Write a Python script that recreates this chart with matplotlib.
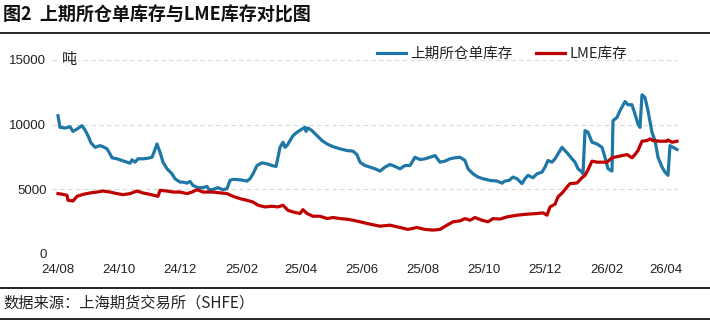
import matplotlib
matplotlib.use("Agg")
import matplotlib.pyplot as plt
from matplotlib.lines import Line2D
import pandas as pd

plt.rcParams['font.family'] = ['Liberation Sans', 'Noto Sans CJK SC', 'DejaVu Sans']

# ---- data ----
shfe_dates = [
    "2024-08-01", "2024-08-03", "2024-08-08", "2024-08-13", "2024-08-16", "2024-08-20",
    "2024-08-25", "2024-08-28", "2024-08-31", "2024-09-03", "2024-09-07", "2024-09-12",
    "2024-09-15", "2024-09-19", "2024-09-22", "2024-09-24", "2024-09-29", "2024-10-04",
    "2024-10-09", "2024-10-12", "2024-10-14", "2024-10-17", "2024-10-20", "2024-10-25",
    "2024-10-30", "2024-11-03", "2024-11-05", "2024-11-08", "2024-11-11", "2024-11-14",
    "2024-11-18", "2024-11-23", "2024-11-26", "2024-12-01", "2024-12-04", "2024-12-08",
    "2024-12-11", "2024-12-14", "2024-12-19", "2024-12-24", "2024-12-28", "2024-12-30",
    "2025-01-02", "2025-01-08", "2025-01-13", "2025-01-17", "2025-01-20", "2025-01-23",
    "2025-01-30", "2025-02-06", "2025-02-09", "2025-02-12", "2025-02-16", "2025-02-21",
    "2025-02-26", "2025-03-03", "2025-03-07", "2025-03-09", "2025-03-11", "2025-03-14",
    "2025-03-16", "2025-03-18", "2025-03-21", "2025-03-24", "2025-03-28", "2025-04-02",
    "2025-04-05", "2025-04-06", "2025-04-08", "2025-04-12", "2025-04-17", "2025-04-22",
    "2025-04-27", "2025-05-03", "2025-05-10", "2025-05-17", "2025-05-23", "2025-05-27",
    "2025-05-30", "2025-06-04", "2025-06-09", "2025-06-14", "2025-06-19", "2025-06-24",
    "2025-06-29", "2025-07-04", "2025-07-09", "2025-07-14", "2025-07-19", "2025-07-24",
    "2025-07-29", "2025-08-03", "2025-08-08", "2025-08-13", "2025-08-18", "2025-08-23",
    "2025-08-28", "2025-09-02", "2025-09-07", "2025-09-12", "2025-09-15", "2025-09-20",
    "2025-09-25", "2025-09-30", "2025-10-07", "2025-10-14", "2025-10-19", "2025-10-22",
    "2025-10-26", "2025-10-30", "2025-11-03", "2025-11-08", "2025-11-11", "2025-11-14",
    "2025-11-19", "2025-11-23", "2025-11-28", "2025-12-01", "2025-12-04", "2025-12-08",
    "2025-12-11", "2025-12-14", "2025-12-18", "2025-12-21", "2025-12-24", "2025-12-28",
    "2025-12-31", "2026-01-03", "2026-01-07", "2026-01-08", "2026-01-10", "2026-01-13",
    "2026-01-17", "2026-01-22", "2026-01-27", "2026-01-30", "2026-02-02", "2026-02-06",
    "2026-02-07", "2026-02-11", "2026-02-14", "2026-02-19", "2026-02-22", "2026-02-26",
    "2026-03-01", "2026-03-04", "2026-03-06", "2026-03-08", "2026-03-11", "2026-03-14",
    "2026-03-18", "2026-03-21", "2026-03-24", "2026-03-28", "2026-03-31", "2026-04-03",
    "2026-04-05", "2026-04-08", "2026-04-12",
]
shfe_values = [
    10690, 9790, 9740, 9840, 9480, 9660,
    9920, 9590, 9150, 8590, 8250, 8380,
    8300, 8130, 7740, 7440, 7360, 7230,
    7100, 7020, 7280, 7100, 7360, 7360,
    7410, 7480, 7870, 8510, 7870, 7100,
    6590, 6200, 5820, 5560, 5560, 5480,
    5610, 5300, 5130, 5130, 5230, 4970,
    4970, 5130, 4970, 5050, 5690, 5770,
    5740, 5640, 5820, 6200, 6840, 7050,
    6970, 6840, 6770, 7480, 8250, 8640,
    8250, 8380, 8770, 9150, 9410, 9660,
    9790, 9480, 9740, 9540, 9150, 8770,
    8510, 8300, 8130, 8000, 7950, 7680,
    7100, 6840, 6720, 6590, 6410, 6720,
    6920, 6770, 6590, 6840, 6840, 7480,
    7300, 7360, 7480, 7610, 7100, 7180,
    7360, 7440, 7480, 7230, 6590, 6200,
    5950, 5820, 5690, 5640, 5480, 5640,
    5690, 5950, 5820, 5440, 5820, 6080,
    5900, 6200, 6330, 6720, 7230, 7100,
    7360, 7740, 8250, 8000, 7740, 7360,
    7100, 6590, 6330, 6200, 9540, 9410,
    8640, 8510, 8250, 7480, 6590, 6410,
    10310, 10560, 11080, 11790, 11540, 11540,
    10820, 10050, 9790, 12310, 12100, 11080,
    9410, 8770, 7480, 6720, 6330, 6080,
    8380, 8250, 8080,
]

lme_dates = [
    "2024-08-01", "2024-08-06", "2024-08-10", "2024-08-11", "2024-08-16", "2024-08-20",
    "2024-08-26", "2024-09-02", "2024-09-09", "2024-09-15", "2024-09-22", "2024-09-29",
    "2024-10-05", "2024-10-12", "2024-10-19", "2024-10-25", "2024-11-01", "2024-11-09",
    "2024-11-11", "2024-11-18", "2024-11-24", "2024-12-01", "2024-12-08", "2024-12-13",
    "2024-12-18", "2024-12-24", "2024-12-30", "2025-01-03", "2025-01-17", "2025-01-23",
    "2025-01-30", "2025-02-06", "2025-02-12", "2025-02-17", "2025-02-24", "2025-03-03",
    "2025-03-09", "2025-03-14", "2025-03-19", "2025-03-24", "2025-03-31", "2025-04-03",
    "2025-04-07", "2025-04-13", "2025-04-20", "2025-04-27", "2025-05-03", "2025-05-10",
    "2025-05-17", "2025-05-23", "2025-05-30", "2025-06-09", "2025-06-19", "2025-06-29",
    "2025-07-09", "2025-07-17", "2025-07-26", "2025-08-03", "2025-08-11", "2025-08-18",
    "2025-08-25", "2025-08-31", "2025-09-07", "2025-09-12", "2025-09-17", "2025-09-22",
    "2025-09-29", "2025-10-05", "2025-10-10", "2025-10-17", "2025-10-24", "2025-11-03",
    "2025-11-13", "2025-11-23", "2025-11-29", "2025-12-03", "2025-12-06", "2025-12-11",
    "2025-12-14", "2025-12-19", "2025-12-23", "2025-12-26", "2026-01-02", "2026-01-07",
    "2026-01-10", "2026-01-13", "2026-01-17", "2026-01-22", "2026-02-01", "2026-02-06",
    "2026-02-12", "2026-02-21", "2026-02-26", "2026-03-01", "2026-03-04", "2026-03-08",
    "2026-03-13", "2026-03-16", "2026-03-19", "2026-03-26", "2026-04-02", "2026-04-03",
    "2026-04-07", "2026-04-12",
]
lme_values = [
    4670, 4610, 4540, 4150, 4100, 4460,
    4610, 4720, 4790, 4870, 4790, 4670,
    4590, 4670, 4870, 4720, 4610, 4460,
    4920, 4870, 4790, 4790, 4670, 4790,
    4970, 4790, 4790, 4790, 4670, 4460,
    4280, 4150, 4020, 3770, 3640, 3690,
    3640, 3770, 3380, 3250, 3130, 3430,
    3130, 2920, 2920, 2740, 2820, 2740,
    2690, 2610, 2490, 2310, 2150, 2230,
    2050, 1900, 2050, 1900, 1850, 1900,
    2230, 2490, 2560, 2740, 2610, 2820,
    2610, 2490, 2740, 2700, 2870, 3000,
    3080, 3130, 3180, 3000, 3640, 3850,
    4410, 4790, 5180, 5440, 5490, 5900,
    6080, 6510, 7180, 7100, 7100, 7440,
    7540, 7690, 7440, 7690, 8000, 8720,
    8770, 8900, 8770, 8720, 8720, 8820,
    8640, 8720,
]

series_names = ["上期所仓单库存", "LME库存"]
series_colors = ["#1f77a6", "#c00000"]
y_ticks = [0, 5000, 10000, 15000]
x_tick_dates = ["2024-08-01", "2024-10-01", "2024-12-01", "2025-02-01", "2025-04-01",
                "2025-06-01", "2025-08-01", "2025-10-01", "2025-12-01", "2026-02-01",
                "2026-04-01"]
x_tick_labels = ["24/08", "24/10", "24/12", "25/02", "25/04", "25/06", "25/08",
                 "25/10", "25/12", "26/02", "26/04"]
title_text = "图2  上期所仓单库存与LME库存对比图"
source_text = "数据来源：上海期货交易所（SHFE）"
unit_text = "吨"

# ---- figure ----
W, H = 710, 322
fig = plt.figure(figsize=(W / 100, H / 100), dpi=100)
ax = fig.add_axes([52 / W, (H - 254) / H, (678 - 52) / W, (254 - 60) / H])

ax.plot(pd.to_datetime(shfe_dates), shfe_values, color=series_colors[0], lw=2.3,
        label=series_names[0], solid_joinstyle='round', clip_on=False, zorder=3)
ax.plot(pd.to_datetime(lme_dates), lme_values, color=series_colors[1], lw=2.3,
        label=series_names[1], solid_joinstyle='round', clip_on=False, zorder=4)

ax.set_ylim(0, 15000)
ax.set_xlim(pd.Timestamp("2024-07-26"), pd.Timestamp("2026-04-13"))
ax.set_yticks(y_ticks)
ax.set_yticklabels([str(v) for v in y_ticks])
ax.set_xticks(pd.to_datetime(x_tick_dates))
ax.set_xticklabels(x_tick_labels)
ax.tick_params(axis='both', length=0, labelsize=9.5, colors='#222222')
ax.tick_params(axis='y', pad=4)
ax.tick_params(axis='x', pad=7)
for s in ax.spines.values():
    s.set_visible(False)
ax.yaxis.grid(True, color='#d9d9d9', lw=0.8, linestyle=(0, (4, 3)))
ax.set_axisbelow(True)

ax.text((62 - 52) / (678 - 52), 1.0, unit_text, transform=ax.transAxes, ha='left',
        va='center', fontsize=11, family=['Noto Sans CJK SC'], color='#222222',
        bbox=dict(facecolor='white', edgecolor='none', pad=1.0), zorder=5)

leg = ax.legend(loc='center left', bbox_to_anchor=((377 - 52) / (678 - 52), 1.031),
                ncol=2, frameon=False, handlelength=2.0,
                handletextpad=0.3, columnspacing=1.6, borderaxespad=0, borderpad=0,
                prop={'family': ['Noto Sans CJK SC'], 'size': 10.5})
for t in leg.get_texts():
    t.set_color('#222222')

# title, rules, source
fig.text(3 / W, 1 - 15 / H, title_text, ha='left', va='center', fontsize=13,
         fontweight='bold', family=['Noto Sans CJK SC'], color='#111111')
for yy in (32.5, 288, 319):
    fig.add_artist(Line2D([0, 1], [1 - yy / H, 1 - yy / H], color='black', lw=1.2,
                          transform=fig.transFigure))
fig.text(3 / W, 1 - 303 / H, source_text, ha='left', va='center', fontsize=11,
         family=['Noto Sans CJK SC'], color='#222222')

fig.savefig("out.png", dpi=100, facecolor='white')
